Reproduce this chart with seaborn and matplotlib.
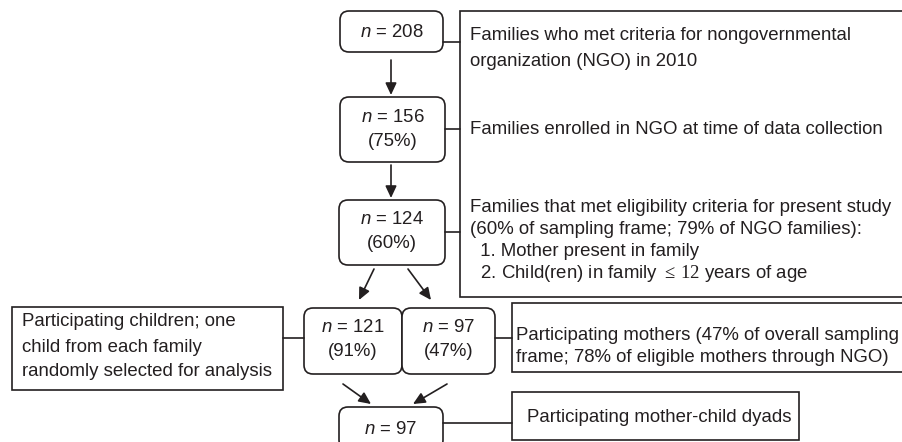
import matplotlib
matplotlib.use("Agg")
import matplotlib.pyplot as plt
import seaborn as sns
from matplotlib.patches import FancyBboxPatch, Rectangle

# flow counts shown in the rounded boxes
counts = [208, 156, 124, 121, 97, 97]
percents = [None, "75%", "60%", "91%", "47%", None]

# description texts
desc_top = ["Families who met criteria for nongovernmental",
            "organization (NGO) in 2010"]
desc_enrolled = ["Families enrolled in NGO at time of data collection"]
desc_eligible = ["Families that met eligibility criteria for present study",
                 "(60% of sampling frame; 79% of NGO families):",
                 "  1. Mother present in family",
                 r"  2. Child(ren) in family $\leq\,\mathrm{12}$ years of age"]
desc_children = ["Participating children; one",
                 "child from each family",
                 "randomly selected for analysis"]
desc_mothers = ["Participating mothers (47% of overall sampling",
                "frame; 78% of eligible mothers through NGO)"]
desc_dyads = ["Participating mother-child dyads"]

sns.set_theme(style="white")
plt.rcParams["font.family"] = ["Liberation Sans", "DejaVu Sans"]
plt.rcParams["mathtext.fontset"] = "custom"
plt.rcParams["mathtext.rm"] = "Liberation Serif"
plt.rcParams["mathtext.it"] = "Liberation Sans:italic"
plt.rcParams["mathtext.fallback"] = "stix"

INK = "#231f20"
FS = 13.4
LW = 1.2

fig = plt.figure(figsize=(9.02, 4.42), dpi=100)
ax = fig.add_axes([0, 0, 1, 1])
ax.set_xlim(0, 902)
ax.set_ylim(442, 0)
ax.axis("off")

# rounded count boxes: (x0, y0, x1, y1)
boxes = [(340, 11, 443, 52), (340, 97, 445, 162), (339, 200, 445, 265),
         (304, 308, 402, 374), (402, 308, 495, 374), (339, 407, 443, 449)]
for (x0, y0, x1, y1), n, p in zip(boxes, counts, percents):
    ax.add_patch(FancyBboxPatch((x0, y0), x1 - x0, y1 - y0,
                                boxstyle="round,pad=0,rounding_size=9",
                                fc="white", ec=INK, lw=LW))
    cx = (x0 + x1) / 2
    if p is None:
        ax.text(cx, (y0 + y1) / 2 + 1, rf"$\mathit{{n}}$ = {n}", ha="center",
                va="center", fontsize=FS, color=INK)
    else:
        ax.text(cx, y0 + 20, rf"$\mathit{{n}}$ = {n}", ha="center",
                va="center", fontsize=FS, color=INK)
        ax.text(cx, y0 + 44, f"({p})", ha="center", va="center",
                fontsize=FS, color=INK)

# square text frames
frames = [(460, 11, 910, 297), (12, 307, 283, 390),
          (512, 303, 910, 372), (512, 392, 799, 440)]
for x0, y0, x1, y1 in frames:
    ax.add_patch(Rectangle((x0, y0), x1 - x0, y1 - y0, fc="white",
                           ec=INK, lw=LW))


def write(lines, x, y0, step):
    for i, s in enumerate(lines):
        ax.text(x, y0 + i * step, s, ha="left", va="center",
                fontsize=FS, color=INK)


write(desc_top, 470, 36, 25)
write(desc_enrolled, 470, 130, 25)
write(desc_eligible, 470, 208, 22)
write(desc_children, 22, 322, 25)
write(desc_mothers, 516, 335, 23)
write(desc_dyads, 527, 417, 25)

# connector lines
for x0, x1, y in [(443, 460, 42), (445, 460, 129), (445, 460, 232),
                  (283, 304, 338), (495, 512, 338), (443, 512, 423)]:
    ax.plot([x0, x1], [y, y], color=INK, lw=LW)

# arrows
arrows = [((391, 60), (391, 95)), ((391, 165), (391, 198)),
          ((374, 269), (359, 300)), ((408, 269), (431, 300)),
          ((343, 384), (371, 404)), ((447, 384), (413, 404))]
for a, b in arrows:
    ax.annotate("", xy=b, xytext=a,
                arrowprops=dict(arrowstyle="-|>,head_length=0.6,head_width=0.28",
                                color=INK, lw=LW, shrinkA=0, shrinkB=0))

fig.savefig("out.png", dpi=100)
